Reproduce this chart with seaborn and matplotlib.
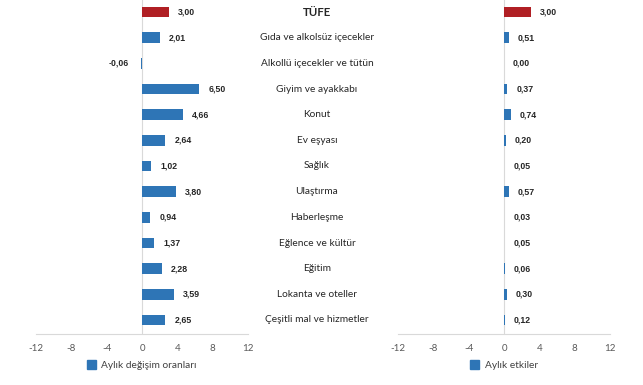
import matplotlib
matplotlib.use("Agg")
import matplotlib.pyplot as plt
from matplotlib.patches import Patch
import seaborn as sns
import pandas as pd

categories = ["TÜFE", "Gıda ve alkolsüz içecekler", "Alkollü içecekler ve tütün",
              "Giyim ve ayakkabı", "Konut", "Ev eşyası", "Sağlık", "Ulaştırma",
              "Haberleşme", "Eğlence ve kültür", "Eğitim", "Lokanta ve oteller",
              "Çeşitli mal ve hizmetler"]
monthly_change = [3.00, 2.01, -0.06, 6.50, 4.66, 2.64, 1.02, 3.80, 0.94, 1.37, 2.28, 3.59, 2.65]
monthly_effect = [3.00, 0.51, 0.00, 0.37, 0.74, 0.20, 0.05, 0.57, 0.03, 0.05, 0.06, 0.30, 0.12]
xticks = [-12, -8, -4, 0, 4, 8, 12]
legend_left = "Aylık değişim oranları"
legend_right = "Aylık etkiler"

RED = "#B01F24"
BLUE = "#2E75B6"
palette = [RED] + [BLUE] * (len(categories) - 1)

sns.set_theme(style="white")
plt.rcParams["font.family"] = ["Lato", "DejaVu Sans"]

fig = plt.figure(figsize=(6.43, 3.85), dpi=100)
W, H = 643, 385
top_px, bot_px = -0.8, 334
ax_h = bot_px - top_px
axL = fig.add_axes([36 / W, 1 - bot_px / H, 212 / W, ax_h / H])
axR = fig.add_axes([398 / W, 1 - bot_px / H, 212 / W, ax_h / H])

def fmt(v):
    return f"{v:.2f}".replace(".", ",")

for ax, vals, leg in [(axL, monthly_change, legend_left), (axR, monthly_effect, legend_right)]:
    df = pd.DataFrame({"cat": categories, "val": vals})
    sns.barplot(data=df, x="val", y="cat", hue="cat", palette=palette, legend=False,
                orient="h", width=0.42, ax=ax, saturation=1, linewidth=0)
    ax.set_xlim(-12, 12)
    ax.set_ylim(12.55, -0.5)
    ax.set_xticks(xticks)
    ax.set_xticklabels([str(t) for t in xticks], fontsize=7, color="#595959")
    ax.tick_params(axis="x", length=0, pad=7)
    ax.set_yticks([])
    ax.set_xlabel("")
    ax.set_ylabel("")
    for s in ["top", "right", "left"]:
        ax.spines[s].set_visible(False)
    ax.spines["bottom"].set_color("#D9D9D9")
    ax.spines["bottom"].set_linewidth(0.8)
    ax.axvline(0, color="#D9D9D9", lw=0.8, zorder=0)
    for i, v in enumerate(vals):
        if v < 0:
            ax.annotate(fmt(v), (v, i), xytext=(-9, 0), textcoords="offset points",
                        ha="right", va="center", fontsize=6.3, fontweight="bold",
                        color="#262626", family=["Liberation Sans"])
        else:
            ax.annotate(fmt(v), (v, i), xytext=(6.5, 0), textcoords="offset points",
                        ha="left", va="center", fontsize=6.3, fontweight="bold",
                        color="#262626", family=["Liberation Sans"])
    ax.legend(handles=[Patch(facecolor=BLUE, edgecolor=BLUE)], labels=[leg],
              loc="center", bbox_to_anchor=(0.5, -31 / ax_h), frameon=False,
              fontsize=7.3, handlelength=0.9, handleheight=0.9, handletextpad=0.5,
              labelcolor="#404040")

# category labels in the middle
for i, c in enumerate(categories):
    y_px = 12 + i * (320 - 12) / 12
    fig.text(317 / W, 1 - y_px / H, c, ha="center", va="center",
             fontsize=7.3 if i else 8.3, color="#262626",
             fontweight="bold" if i == 0 else "normal")

fig.savefig("out.png", dpi=100, facecolor="white")
